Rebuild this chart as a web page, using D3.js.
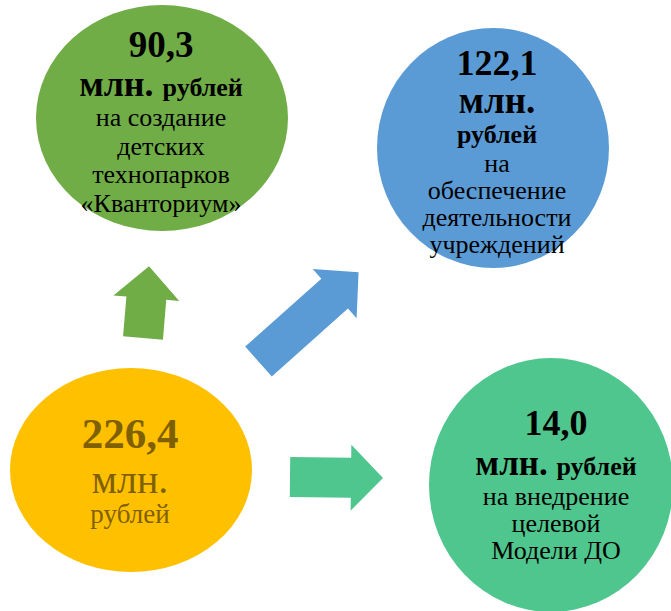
<!DOCTYPE html>
<html>
<head>
<meta charset="utf-8">
<script src="https://cdn.jsdelivr.net/npm/d3@7"></script>
<style>
  body { margin: 0; background: #fff; }
</style>
</head>
<body>
<div class="chart"></div>
<script>
// values (млн. рублей)
var total = "226,4";
var values = ["90,3", "122,1", "14,0"];
var descriptions = [
  ["на создание", "детских", "технопарков", "«Кванториум»"],
  ["на", "обеспечение", "деятельности", "учреждений"],
  ["на внедрение", "целевой", "Модели ДО"]
];
var colors = ["#70AD47", "#5B9BD5", "#4FC68D"];
var totalColor = "#FFC000";

var font = "Liberation Serif, DejaVu Serif, serif";

var svg = d3.select('.chart').append('svg')
            .attr('width', 671)
            .attr('height', 611);

// bubbles: total + three directions
var bubbles = [
  { cx: 131, cy: 470, rx: 121, ry: 102, fill: totalColor },
  { cx: 162, cy: 118, rx: 126, ry: 113, fill: colors[0] },
  { cx: 493, cy: 148, rx: 116, ry: 120, fill: colors[1] },
  { cx: 551, cy: 485, rx: 122, ry: 127, fill: colors[2] }
];

svg.selectAll('ellipse')
    .data(bubbles)
    .enter().append('ellipse')
      .attr('cx', function(d){ return d.cx; })
      .attr('cy', function(d){ return d.cy; })
      .attr('rx', function(d){ return d.rx; })
      .attr('ry', function(d){ return d.ry; })
      .attr('fill', function(d){ return d.fill; });

// arrows from total to each bubble (base point, angle, length)
var arrows = [
  { x: 143, y: 338, angle: -85.2, len: 72, fill: colors[0] },
  { x: 258.5, y: 361.5, angle: -41.7, len: 134, fill: colors[1] },
  { x: 290, y: 477, angle: 0.6, len: 93, fill: colors[2] }
];

function arrowPoints(len) {
  var sw = 20, hw = 33, hl = 32;
  return [[0, -sw], [len - hl, -sw], [len - hl, -hw], [len, 0],
          [len - hl, hw], [len - hl, sw], [0, sw]];
}
var line = d3.line();

svg.selectAll('path.arrow')
    .data(arrows)
    .enter().append('path')
      .attr('class', 'arrow')
      .attr('d', function(d){ return line(arrowPoints(d.len)) + 'Z'; })
      .attr('transform', function(d){ return 'translate(' + d.x + ',' + d.y + ') rotate(' + d.angle + ')'; })
      .attr('fill', function(d){ return d.fill; });

// text blocks: each line is list of [text, size, bold]
var blocks = [
  { x: 130, color: '#7F6000', lines: [
      { y: 448, parts: [[total, 43, true]] },
      { y: 493, parts: [['млн.', 40, false]] },
      { y: 523, parts: [['рублей', 27, false]] } ] },
  { x: 161, color: '#000', lines: [
      { y: 57, parts: [[values[0], 37, true]] },
      { y: 96, parts: [['млн. ', 36, true], ['рублей', 26, true]] } ].concat(
      descriptions[0].map(function(t, i){ return { y: 126 + i * 28.5, parts: [[t, 26, false]] }; })) },
  { x: 497, color: '#000', lines: [
      { y: 75, parts: [[values[1], 36, true]] },
      { y: 113, parts: [['млн.', 37, true]] },
      { y: 143, parts: [['рублей', 26, true]] } ].concat(
      descriptions[1].map(function(t, i){ return { y: 172 + i * 27, parts: [[t, 26, false]] }; })) },
  { x: 556, color: '#000', lines: [
      { y: 435, parts: [[values[2], 36, true]] },
      { y: 475, parts: [['млн. ', 35, true], ['рублей', 26, true]] } ].concat(
      descriptions[2].map(function(t, i){ return { y: 505 + i * 27, parts: [[t, 26, false]] }; })) }
];

blocks.forEach(function(b){
  b.lines.forEach(function(l){
    var t = svg.append('text')
        .attr('x', b.x)
        .attr('y', l.y)
        .attr('text-anchor', 'middle')
        .attr('font-family', font)
        .attr('fill', b.color);
    l.parts.forEach(function(p){
      t.append('tspan')
        .attr('font-size', p[1])
        .attr('font-weight', p[2] ? 'bold' : 'normal')
        .text(p[0]);
    });
  });
});
</script>
</body>
</html>
